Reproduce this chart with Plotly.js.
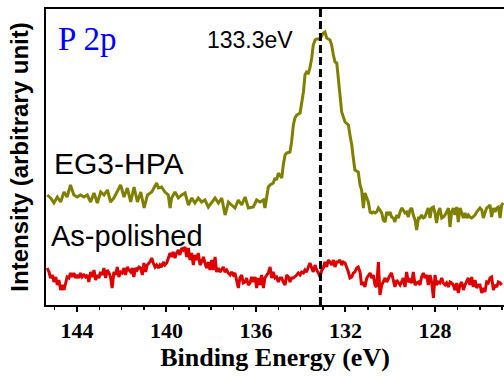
<!DOCTYPE html>
<html>
<head>
<meta charset="utf-8">
<script src="https://cdn.plot.ly/plotly-3.0.1.min.js"></script>
<style>html,body{margin:0;padding:0;background:#fff;}#chart{width:504px;height:376px;}</style>
</head>
<body>
<div id="chart"></div>
<script>
// EG3-HPA (olive) spectrum: binding energy (eV) and intensity (arbitrary unit)
var eg3Energy = [
145.33,145.18,145.03,144.88,144.73,144.58,144.44,144.29,144.14,143.99,143.84,143.69,143.54,143.39,143.24,143.09,142.94,142.79,142.64,142.50,142.35,142.20,142.05,141.90,141.75,141.60,141.45,141.30,141.15,141.00,140.85,
140.66,140.51,140.44,140.36,140.22,140.07,139.92,139.84,139.77,139.62,139.47,139.32,139.17,139.02,138.87,138.73,138.58,138.43,138.28,138.13,137.98,137.83,137.68,137.53,137.38,137.23,137.09,136.94,136.79,136.64,136.49,136.34,
136.12,135.97,135.82,135.67,135.60,135.52,135.45,135.37,135.23,135.15,135.08,135.00,134.93,134.85,134.78,134.70,134.63,134.48,134.41,134.33,134.26,134.18,134.03,133.96,133.88,133.81,133.74,133.66,133.59,133.51,133.44,133.36,133.29,133.14,133.06,132.99,132.92,132.84,132.69,132.62,132.54,132.47,132.39,132.32,132.25,132.17,132.02,131.87,131.80,131.72,131.65,131.58,131.43,
131.35,131.28,131.20,131.13,131.05,130.98,130.90,130.83,130.76,130.68,130.61,130.53,130.46,130.38,130.31,130.23,130.16,130.09,130.01,129.94,129.86,129.79,129.71,129.64,129.56,129.49,129.42,129.34,129.27,129.19,129.12,129.04,128.97,128.89,128.82,128.74,128.67,128.60,128.52,128.45,128.37,128.30,128.22,128.15,128.07,128.00,127.93,127.85,127.78,127.70,127.63,127.55,127.48,127.40,127.33,127.26,127.18,127.11,127.03,126.96,126.88,126.81,126.73,126.66,126.58,126.51,126.44,126.36,126.29,126.21,126.14,126.06,125.99,125.91,125.84,125.77,125.69,125.62,125.54,125.47,125.39,125.32,125.24,125.17,125.09,125.02,124.95
];
var eg3Intensity = [
110,107,102,108,103,113,108,120,110,108,110,108,110,103,112,102,113,110,115,103,107,113,120,108,117,103,118,103,113,97,110,
113,120,122,117,118,113,110,97,107,113,107,110,112,100,107,102,107,103,105,98,103,107,102,107,90,103,100,97,105,100,108,97,
98,105,103,105,97,110,118,120,122,127,125,132,130,127,140,150,152,153,163,180,187,190,192,202,213,230,233,232,237,247,260,265,266,266,270,272,273,267,265,260,250,243,242,227,210,193,183,180,170,160,147,135,133,
120,115,97,112,107,103,93,92,93,92,93,97,95,92,85,83,93,90,93,88,87,83,90,87,93,97,95,92,93,88,95,97,90,85,75,87,87,90,87,88,93,97,87,97,98,92,82,93,97,87,88,90,93,97,78,93,97,90,98,83,97,92,87,92,87,90,88,87,88,90,93,95,97,95,87,92,97,98,100,88,97,93,97,98,87,100,102
];

// As-polished (red) spectrum
var asPolEnergy = [
145.33,145.25,145.18,145.10,145.03,144.95,144.88,144.81,144.73,144.66,144.58,144.51,144.44,144.36,144.29,144.21,144.14,144.06,143.99,143.92,143.84,143.77,143.69,143.62,143.54,143.47,143.39,143.32,143.24,143.17,143.10,143.02,142.95,142.87,142.80,142.72,142.65,142.57,142.50,142.43,142.35,142.28,142.20,142.13,142.05,141.98,141.90,141.83,141.75,141.68,141.60,141.53,141.46,141.38,141.31,141.23,141.16,141.08,141.01,140.93,140.86,
140.74,140.66,140.59,140.51,140.44,140.36,140.29,140.22,140.14,140.07,139.99,139.92,139.84,139.77,139.70,139.62,139.55,139.47,139.40,139.32,139.25,139.17,139.10,139.02,138.95,138.88,138.80,138.73,138.65,138.58,138.50,138.43,138.35,138.28,138.21,138.13,138.06,137.98,137.91,137.83,137.76,137.68,137.61,137.54,137.46,137.39,137.31,137.24,137.16,137.09,137.01,136.94,136.86,136.79,136.72,136.64,136.57,136.49,136.42,136.34,136.27,
136.19,136.12,136.04,135.97,135.89,135.82,135.75,135.67,135.60,135.52,135.45,135.37,135.30,135.23,135.15,135.08,135.00,134.93,134.85,134.78,134.70,134.63,134.55,134.48,134.41,134.33,134.26,134.18,134.11,134.03,133.96,133.88,133.81,133.74,133.66,133.59,133.51,133.44,133.36,133.29,133.21,133.14,133.06,132.99,132.92,132.84,132.77,132.69,132.62,132.54,132.47,132.39,132.32,132.25,132.17,132.10,132.02,131.95,131.87,131.80,131.72,131.65,
131.58,131.50,131.43,131.35,131.28,131.20,131.13,131.05,130.98,130.90,130.83,130.76,130.68,130.61,130.53,130.46,130.38,130.31,130.23,130.16,130.09,130.01,129.94,129.86,129.79,129.71,129.64,129.56,129.49,129.42,129.34,129.27,129.19,129.12,129.04,128.97,128.89,128.82,128.74,128.67,128.60,128.52,128.45,128.37,128.30,128.22,128.15,128.07,128.00,127.93,127.85,127.78,127.70,127.63,127.55,127.48,127.40,127.33,127.26,127.18,127.11,127.03,126.96,126.88,126.81,126.73,126.66,126.58,126.51,126.44,126.36,126.29,126.21,126.14,126.06,125.99,125.91,125.84,125.77,125.69,125.62,125.54,125.47,125.39,125.32,125.24,125.17,125.09,125.02
];
var asPolIntensity = [
37,33,27,30,23,28,20,25,15,20,15,23,28,27,32,28,32,27,30,27,32,28,30,28,30,23,33,28,35,25,30,27,33,30,37,27,35,32,28,17,33,30,38,28,33,32,37,30,38,35,33,37,28,37,35,38,37,30,42,33,40,
43,47,42,38,40,37,40,38,43,40,42,47,52,48,53,47,52,55,50,57,55,58,48,57,45,52,40,50,45,52,40,43,48,42,37,43,35,45,35,48,33,37,33,35,38,33,35,32,30,33,30,32,25,17,27,30,22,23,27,20,22,
28,23,28,17,27,20,30,17,27,30,32,38,27,33,27,28,23,27,27,23,20,30,28,23,27,27,28,30,32,30,33,32,35,33,38,42,37,33,40,35,32,28,35,37,43,38,45,43,40,45,38,43,43,45,40,43,42,38,33,27,28,32,
33,37,38,33,20,23,18,27,30,32,27,30,20,18,43,10,20,23,27,23,27,30,32,23,18,25,23,20,23,27,18,33,23,25,22,33,20,22,23,20,28,32,27,30,20,30,23,7,30,20,23,22,27,22,20,22,18,23,22,20,15,22,12,20,23,15,20,23,27,20,28,18,25,17,20,20,12,17,13,23,22,27,28,15,20,18,23,22,20
];

var xTickVals = [144, 140, 136, 132, 128];
var xTickText = ['144', '140', '136', '132', '128'];
var peakEnergy = 133.12;
var peakLabel = '133.3eV';
var sampleNames = ['EG3-HPA', 'As-polished'];
var regionLabel = 'P 2p';

var serif = '"Liberation Serif", "Times New Roman", Times, serif';
var sans = '"Liberation Sans", Arial, sans-serif';

var traces = [
  {x: eg3Energy, y: eg3Intensity, type: 'scatter', mode: 'lines', name: sampleNames[0],
   line: {color: '#808000', width: 3}},
  {x: asPolEnergy, y: asPolIntensity, type: 'scatter', mode: 'lines', name: sampleNames[1],
   line: {color: '#dd0000', width: 3}}
];

var layout = {
  width: 504, height: 376,
  margin: {l: 46, r: 0, t: 9, b: 71},
  paper_bgcolor: '#ffffff', plot_bgcolor: '#ffffff',
  showlegend: false,
  xaxis: {
    range: [145.385, 124.916],
    showline: true, linewidth: 2, linecolor: '#000', mirror: true,
    ticks: 'outside', tickvals: xTickVals,
    ticktext: xTickText.map(function (t) { return '<b>' + t + '</b>'; }),
    ticklen: 5, tickwidth: 2, tickcolor: '#000',
    minor: {dtick: 1, tick0: 0, ticks: 'outside', ticklen: 3, tickwidth: 1.5, tickcolor: '#000', showgrid: false},
    tickfont: {family: serif, size: 22, color: '#000'},
    showgrid: false, zeroline: false,
    title: {text: '<b>Binding Energy (eV)</b>', font: {family: serif, size: 26, color: '#000'}, standoff: 3}
  },
  yaxis: {
    range: [0, 296],
    showline: true, linewidth: 2, linecolor: '#000', mirror: false,
    showticklabels: false, ticks: '', showgrid: false, zeroline: false,
    title: {text: '<b>Intensity (arbitrary unit)</b>', font: {family: sans, size: 24, color: '#000'}, standoff: 9}
  },
  shapes: [
    {type: 'line', xref: 'x', yref: 'paper', x0: peakEnergy, x1: peakEnergy, y0: 0, y1: 1,
     line: {color: '#000', width: 3, dash: '8px,4px'}}
  ],
  annotations: [
    {text: regionLabel, xref: 'paper', yref: 'paper', x: 0.022, y: 0.9, xanchor: 'left', yanchor: 'middle', showarrow: false,
     font: {family: serif, size: 33, color: '#0000ff'}},
    {text: peakLabel, xref: 'paper', yref: 'paper', x: 0.348, y: 0.895, xanchor: 'left', yanchor: 'middle', showarrow: false,
     font: {family: sans, size: 23, color: '#000'}},
    {text: sampleNames[0], xref: 'paper', yref: 'paper', x: 0.014, y: 0.478, xanchor: 'left', yanchor: 'middle', showarrow: false,
     font: {family: sans, size: 30, color: '#000'}},
    {text: sampleNames[1], xref: 'paper', yref: 'paper', x: 0.007, y: 0.233, xanchor: 'left', yanchor: 'middle', showarrow: false,
     font: {family: sans, size: 29, color: '#000'}}
  ]
};

Plotly.newPlot('chart', traces, layout, {staticPlot: true, displayModeBar: false});
</script>
</body>
</html>
